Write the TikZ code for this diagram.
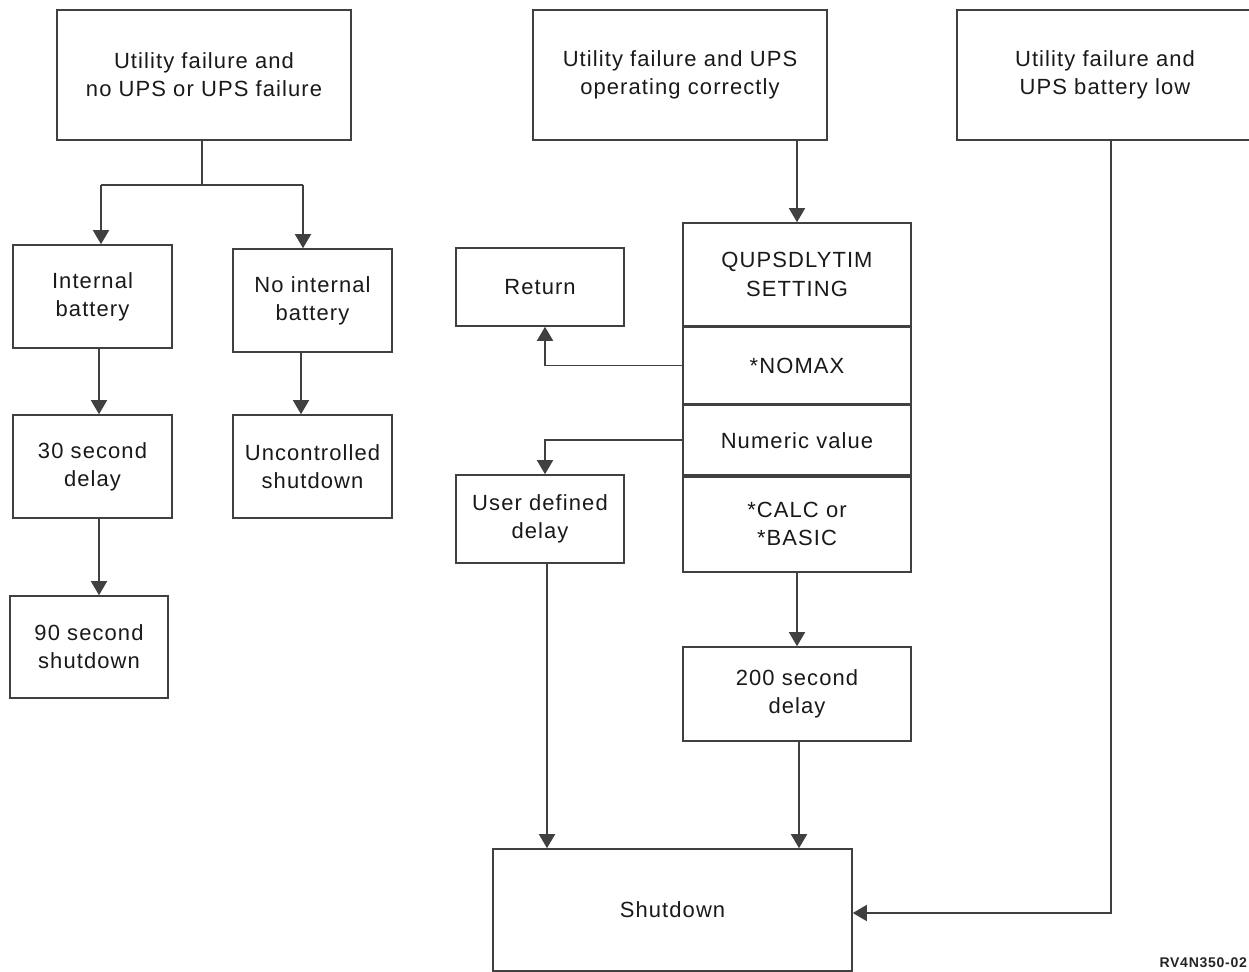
\documentclass[tikz,border=0pt]{standalone}
\usepackage{fontspec}
\setmainfont{Liberation Sans}[LetterSpace=5]
\usetikzlibrary{arrows.meta,positioning}

\begin{document}
\begin{tikzpicture}
	\tikzset{box/.style = {shape=rectangle, draw=black!75, line width=0.9pt, align=center, text=black!90,
			inner sep=2pt, font=\fontsize{12.5}{16}\selectfont},
		flow/.style = {draw=black!75, line width=0.9pt, -{Triangle[width=0.32cm,length=0.28cm]}},
		link/.style = {draw=black!75, line width=0.9pt}}

	\clip (0,0) rectangle (24.98,-19.44);

	% three starting conditions
	\node[box, minimum width=5.88cm, minimum height=2.6cm] (A) at (4.08,-1.5) {Utility failure and\\no UPS or UPS failure};
	\node[box, minimum width=5.88cm, minimum height=2.6cm] (B) at (13.6,-1.5) {Utility failure and UPS\\operating correctly};
	\node[box, minimum width=5.92cm, minimum height=2.6cm] (C) at (22.1,-1.5) {Utility failure and\\UPS battery low};

	% left branch
	\node[box, minimum width=3.18cm, minimum height=2.06cm] (intbat) at (1.85,-5.93) {Internal\\battery};
	\node[box, minimum width=3.18cm, minimum height=2.06cm] (nointbat) at (6.25,-6.01) {No internal\\battery};
	\node[box, minimum width=3.18cm, minimum height=2.06cm] (delay30) at (1.85,-9.33) {30 second\\delay};
	\node[box, minimum width=3.18cm, minimum height=2.06cm] (uncontr) at (6.25,-9.33) {Uncontrolled\\shutdown};
	\node[box, minimum width=3.16cm, minimum height=2.04cm] (shut90) at (1.78,-12.94) {90 second\\shutdown};

	% QUPSDLYTIM stack
	\node[box, minimum width=4.56cm, minimum height=2.06cm] (setting) at (15.94,-5.49) {QUPSDLYTIM\\SETTING};
	\node[box, minimum width=4.56cm, minimum height=1.52cm, below=0pt of setting] (nomax) {*NOMAX};
	\node[box, minimum width=4.56cm, minimum height=1.4cm, below=0pt of nomax] (numeric) {Numeric value};
	\node[box, minimum width=4.56cm, minimum height=1.9cm, below=0pt of numeric] (calc) {*CALC or\\*BASIC};

	\node[box, minimum width=3.36cm, minimum height=1.56cm] (ret) at (10.8,-5.74) {Return};
	\node[box, minimum width=3.36cm, minimum height=1.76cm] (user) at (10.8,-10.38) {User defined\\delay};
	\node[box, minimum width=4.56cm, minimum height=1.88cm] (delay200) at (15.94,-13.88) {200 second\\delay};
	\node[box, minimum width=7.18cm, minimum height=2.44cm] (shutdown) at (13.45,-18.2) {Shutdown};

	\node[anchor=east, font=\fontsize{8}{9}\selectfont\bfseries, text=black!85, inner sep=1pt] (figid) at (24.98,-19.26) {RV4N350-02};

	\coordinate (fork) at (4.04,-3.7);
	\coordinate (forkL) at (2.02,-3.7);
	\coordinate (forkR) at (6.06,-3.7);

	\draw[link] (A.south -| fork)--(fork);
	\draw[link] (forkL)--(forkR);
	\draw[flow] (forkL)--(intbat.north -| forkL);
	\draw[flow] (forkR)--(nointbat.north -| forkR);
	\draw[flow] ([xshift=0.13cm]intbat.south)--([xshift=0.13cm]delay30.north);
	\draw[flow] ([xshift=0.13cm]delay30.south)--([xshift=0.2cm]shut90.north);
	\draw[flow] ([xshift=-0.23cm]nointbat.south)--([xshift=-0.23cm]uncontr.north);

	\draw[flow] (B.south -| setting.north)--(setting.north);
	\draw[flow] (nomax.west) -| ([xshift=0.1cm]ret.south);
	\draw[flow] (numeric.west) -| ([xshift=0.1cm]user.north);
	\draw[flow] (calc.south)--(delay200.north);
	\draw[flow] ([xshift=0.14cm]user.south)--([xshift=0.14cm]user.south |- shutdown.north);
	\draw[flow] ([xshift=0.04cm]delay200.south)--([xshift=0.04cm]delay200.south |- shutdown.north);
	\draw[flow] ([xshift=0.12cm]C.south) |- ([yshift=-0.06cm]shutdown.east);

\end{tikzpicture}
\end{document}
